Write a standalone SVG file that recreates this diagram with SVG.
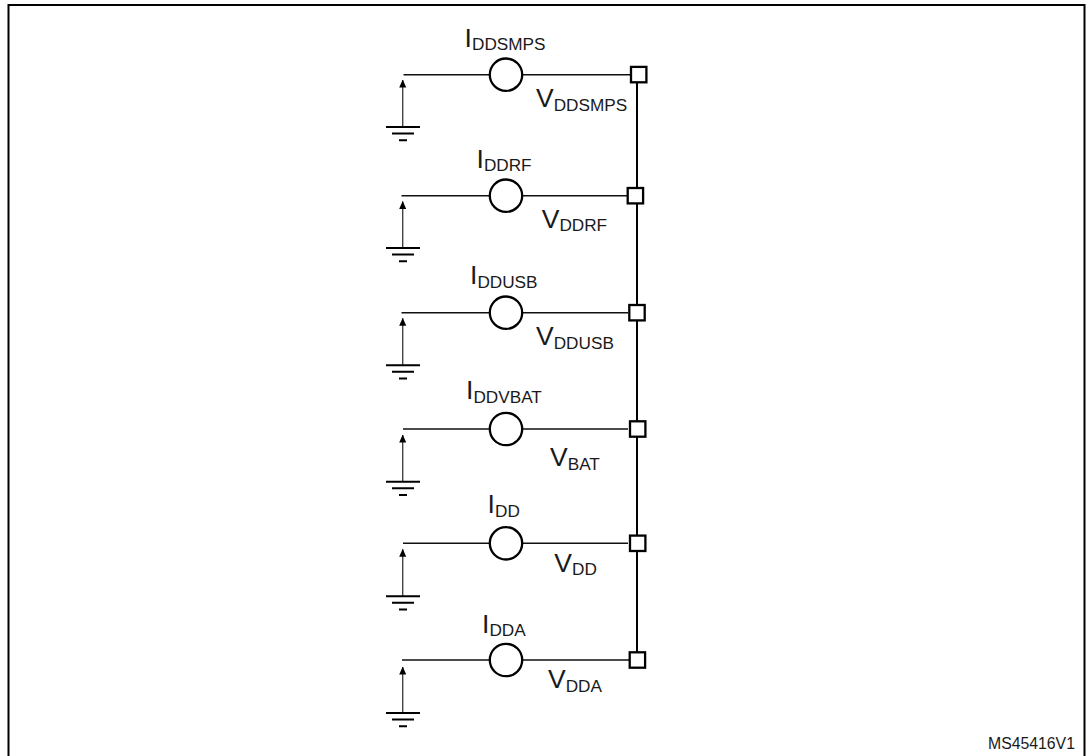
<svg xmlns="http://www.w3.org/2000/svg" width="1086" height="756" viewBox="0 0 1086 756">
<style>
text{font-family:"Liberation Sans",Arial,sans-serif;fill:#1a1a1a;font-size:26.500px}
.s{font-size:17.200px}
.w{fill:none;stroke:#111;stroke-width:1.500}
.c{fill:#fff;stroke:#000;stroke-width:2.300}
.g{fill:none;stroke:#000;stroke-width:2}
.a{fill:none;stroke:#444;stroke-width:1.400}
</style>
<defs>
<marker id="ah" markerUnits="userSpaceOnUse" markerWidth="8" markerHeight="9" refX="7.500" refY="3.500" orient="auto"><path d="M0 0L8 3.500L0 7Z" fill="#000"/></marker>
<g id="earth" class="g"><path d="M-17 0H17M-11 6.500H11M-4 13.300H4"/></g>
</defs>
<rect x="8.500" y="5" width="1076" height="760" fill="none" stroke="#000" stroke-width="2"/>
<g id="connectors">
<path fill="none" stroke="#000" stroke-width="2" d="M637 80V655"/>
<path class="w" d="M403.500 74.700H489M523 74.700H631"/>
<path class="w" d="M401.500 195.700H489M523 195.700H628"/>
<path class="w" d="M401.500 312.700H489M523 312.700H628"/>
<path class="w" d="M403 429H489M523 429H628"/>
<path class="w" d="M403 543.300H489M523 543.300H628"/>
<path class="w" d="M402 660H489M523 660H629"/>
<path class="a" marker-end="url(#ah)" d="M402.700 127V80"/>
<path class="a" marker-end="url(#ah)" d="M402.700 248V201.500"/>
<path class="a" marker-end="url(#ah)" d="M402.700 365V318.300"/>
<path class="a" marker-end="url(#ah)" d="M402.700 481.500V435"/>
<path class="a" marker-end="url(#ah)" d="M402.700 596V549.300"/>
<path class="a" marker-end="url(#ah)" d="M402.700 713V667"/>
</g>
<g id="row-ddsmps"><circle class="c" cx="506" cy="74.700" r="16.200"/><rect class="c" x="631" y="66.900" width="15.400" height="15.400"/><use href="#earth" x="403" y="127"/>
<text x="464.600" y="46.700">I<tspan class="s" dy="3.500">DDSMPS</tspan></text><text x="536" y="107.300">V<tspan class="s" dy="3.500">DDSMPS</tspan></text></g>
<g id="row-ddrf"><circle class="c" cx="506" cy="195.700" r="16.200"/><rect class="c" x="627.700" y="188" width="15.400" height="15.400"/><use href="#earth" x="403" y="248"/>
<text x="476.500" y="167.700">I<tspan class="s" dy="3.500">DDRF</tspan></text><text x="541.700" y="227.700">V<tspan class="s" dy="3.500">DDRF</tspan></text></g>
<g id="row-ddusb"><circle class="c" cx="506" cy="312.700" r="16.200"/><rect class="c" x="629.300" y="305" width="15.400" height="15.400"/><use href="#earth" x="403" y="365.300"/>
<text x="470" y="284.300">I<tspan class="s" dy="3.500">DDUSB</tspan></text><text x="536" y="345">V<tspan class="s" dy="3.500">DDUSB</tspan></text></g>
<g id="row-ddvbat"><circle class="c" cx="506" cy="429" r="16.200"/><rect class="c" x="630" y="421.300" width="15.400" height="15.400"/><use href="#earth" x="403" y="481.700"/>
<text x="466" y="399">I<tspan class="s" dy="3.500">DDVBAT</tspan></text><text x="550" y="466">V<tspan class="s" dy="3.500">BAT</tspan></text></g>
<g id="row-dd"><circle class="c" cx="506" cy="543.300" r="16.200"/><rect class="c" x="630" y="535.600" width="15.400" height="15.400"/><use href="#earth" x="403" y="596.300"/>
<text x="487.600" y="513">I<tspan class="s" dy="3.500">DD</tspan></text><text x="554.300" y="571.700">V<tspan class="s" dy="3.500">DD</tspan></text></g>
<g id="row-dda"><circle class="c" cx="506" cy="660" r="16.200"/><rect class="c" x="629.700" y="652.300" width="15.400" height="15.400"/><use href="#earth" x="403" y="713"/>
<text x="482" y="632.500">I<tspan class="s" dy="3.500">DDA</tspan></text><text x="548" y="688">V<tspan class="s" dy="3.500">DDA</tspan></text></g>
<text x="988" y="749" style="font-size:15.800px">MS45416V1</text>
</svg>
